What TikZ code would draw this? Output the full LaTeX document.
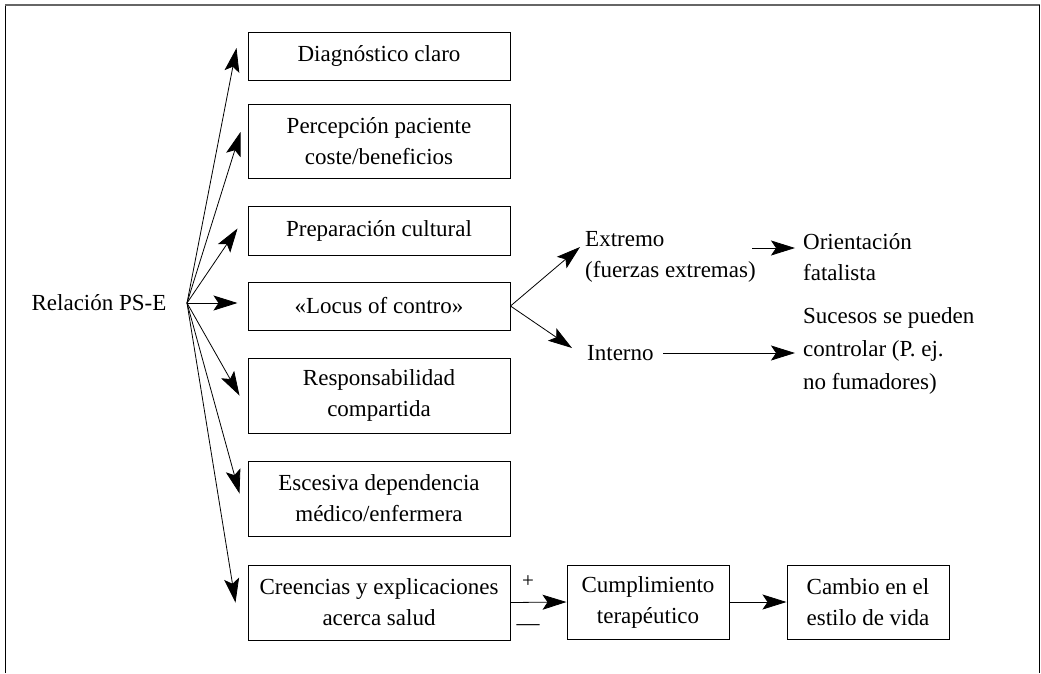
\documentclass[tikz,border=0pt]{standalone}
\usepackage{fontspec}
\setmainfont{Liberation Serif}
\usetikzlibrary{arrows.meta,calc}
\begin{document}
\begin{tikzpicture}[x=1pt,y=-1pt,
  every node/.style={font=\fontsize{23}{31}\selectfont},
  box/.style={draw,line width=1pt,minimum width=262pt,align=center,inner sep=0pt},
  smallbox/.style={box,minimum width=162pt,minimum height=74pt},
  lbl/.style={align=left,inner sep=0pt,anchor=west},
  arr/.style={-{Stealth[length=24pt,width=15pt,inset=5pt]},line width=0.8pt}]
\useasboundingbox (0,0) rectangle (1041,673);

% open frame (no bottom edge)
\draw[line width=1.5pt] (5.5,673) -- (5.5,4.5);
\draw[line width=2pt,black!60] (5,4.5) -- (1040,4.5);
\draw[line width=1.5pt] (1039.5,4.5) -- (1039.5,673);

% left column of factors
\node[box,minimum height=48pt] (diag)  at (379,56)    {Diagnóstico claro};
\node[box,minimum height=74pt] (perc)  at (379,141)   {Percepción paciente\\coste/beneficios};
\node[box,minimum height=49pt] (prep)  at (379,230.5) {Preparación cultural};
\node[box,minimum height=48pt] (locus) at (379,306)   {«Locus of contro»};
\node[box,minimum height=75pt] (resp)  at (379,395.5) {Responsabilidad\\compartida};
\node[box,minimum height=75pt] (esc)   at (379,498.5) {Escesiva dependencia\\médico/enfermera};
\node[box,minimum height=75pt] (cre)   at (379,602.5) {Creencias y explicaciones\\acerca salud};

% source label
\node (rel) at (99,303) {Relación PS-E};
\coordinate (hub) at (187,303);

\draw[arr] (hub) -- ($(diag.west)+(-11,-8)$);
\draw[arr] (hub) -- ($(perc.west)+(-7,-9)$);
\draw[arr] (hub) -- ($(prep.west)+(-10,-2)$);
\draw[arr] (hub) -- ($(locus.west)+(-10,-3)$);
\draw[arr] (hub) -- ($(resp.west)+(-8,0)$);
\draw[arr] (hub) -- ($(esc.west)+(-8,-5)$);
\draw[arr] (hub) -- ($(cre.west)+(-12,0)$);

% locus of control branches
\node[lbl] (ext) at (585,257) {Extremo\\(fuerzas extremas)};
\node[lbl] (ori) at (803,257) {Orientación\\fatalista};
\node[lbl] (int) at (587,353) {Interno};
\node[lbl,font=\fontsize{23}{33}\selectfont] (suc) at (803,351) {Sucesos se pueden\\controlar (P. ej.\\no fumadores)};

\draw[arr] (locus.east) -- ($(ext.west)+(-5,-10)$);
\draw[arr] (locus.east) -- ($(int.west)+(-15,-5)$);
\draw[arr] ($(ori.west)+(-51,-9)$) -- ($(ori.west)+(-8,-9)$);
\draw[arr] ($(suc.west)+(-140,2)$) -- ($(suc.west)+(-8,2)$);

% compliance chain
\node[smallbox] (cump) at (648,602) {Cumplimiento\\terapéutico};
\node[smallbox] (camb) at (868,602) {Cambio en el\\estilo de vida};
\draw[arr] (cre.east) -- (cump.west);
\draw[arr] (cump.east) -- (camb.west);
\node[font=\fontsize{21}{24}\selectfont,inner sep=0pt] (plus) at (528,582) {+};
\node[inner sep=0pt] (minus) at (528,628) {—};
\end{tikzpicture}
\end{document}
